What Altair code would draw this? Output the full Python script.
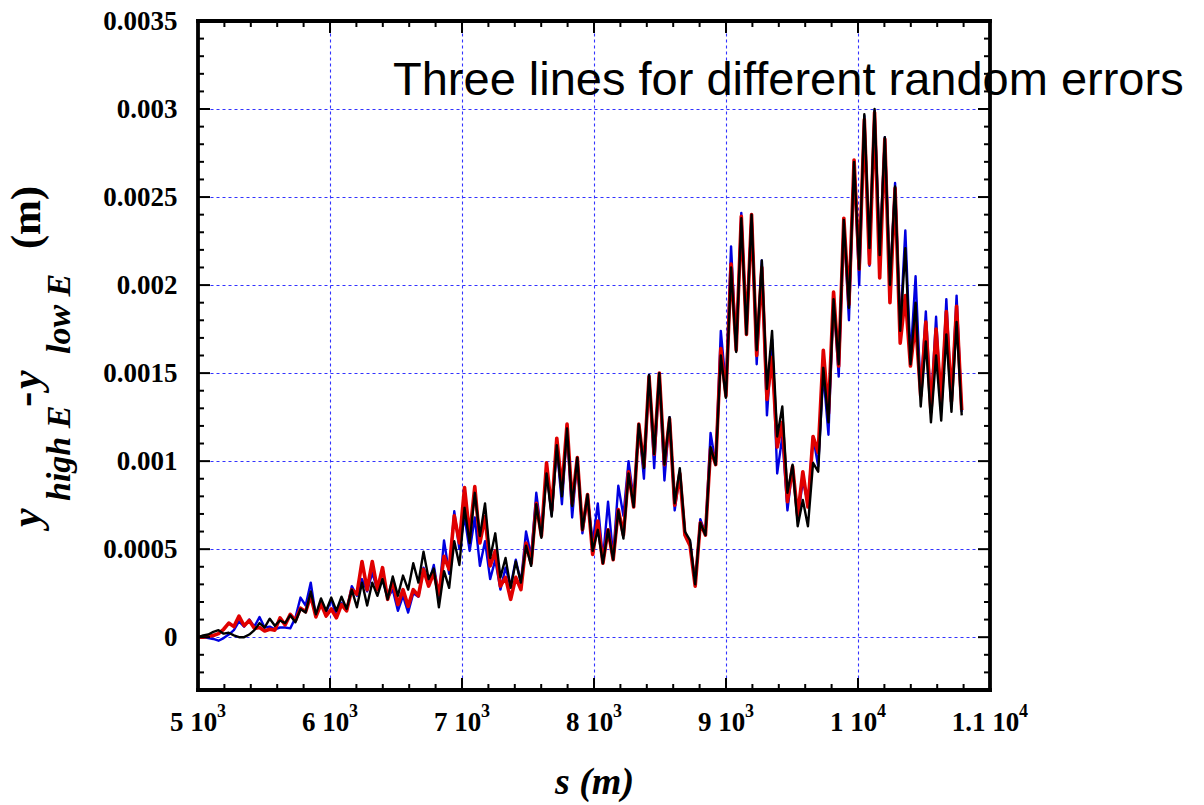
import altair as alt
import pandas as pd

# ---------------- data (values in units of 1e-4 m) ----------------
S_START = 5000.0          # first sample position (m)
S_STEP = 38.83            # sample spacing (m)

BLACK = [
    0.0, 0.1, 0.15, 0.3, 0.4, 0.2, 0.25, 0.1, 0.0, 0.0,
    0.15, 0.4, 0.8, 0.55, 1.05, 0.65, 0.95, 0.8, 1.25, 0.85,
    1.6, 1.4, 2.6, 1.3, 2.2,
    1.5, 2.25, 1.5, 2.3, 1.6,
    2.7, 1.7, 3.1, 1.8, 3.1, 2.35, 3.3, 2.15, 3.45, 2.35,
    3.5, 2.7, 4.2, 3.1, 4.85, 3.3, 3.9, 1.7, 3.75, 2.8,
    5.45, 4.1,
    7.35, 5.35, 8.2, 5.75, 7.6, 4.5, 5.9, 3.4,
    4.5, 2.8, 4.3, 3.1, 5.2, 4.05, 7.55, 5.65, 9.3, 6.85,
    10.9, 8.0, 11.85, 7.45, 10.2, 6.1, 8.1, 4.9,
    6.1, 4.2, 6.1, 4.4, 7.2, 5.6, 9.3, 7.4, 12.1, 9.6, 14.9, 10.4,
    15.0, 9.8, 12.5, 7.6, 9.6, 6.0, 5.5, 3.0, 6.5, 5.8, 10.8, 9.8, 16.0, 13.6,
    21.0, 16.2, 23.8, 17.2, 24.0, 16.3, 21.4, 14.1, 17.4, 11.4, 13.1, 8.2, 9.8,
    6.3, 7.8, 6.3, 9.9, 9.4, 15.3, 12.2, 19.2, 15.5, 23.7, 18.7, 27.0, 20.9,
    29.7, 22.1, 30.0, 21.7, 28.4, 20.0, 25.6, 17.4, 22.1, 15.5,
    19.0, 13.1, 16.8, 12.2, 16.0, 12.3, 17.2, 12.8, 17.9, 12.6,
]

RED = [
    0.0, 0.0, 0.05, 0.1, 0.2, 0.45, 0.8, 0.6, 1.2, 0.65,
    0.95, 0.5, 0.55, 0.35, 0.45, 0.4, 1.1, 0.7, 1.3, 0.95,
    1.65, 1.45, 2.35, 1.15, 1.9,
    1.2, 1.6, 1.1, 1.85, 1.5,
    2.7, 2.45, 4.3, 2.7, 4.3, 2.7, 3.95, 2.15, 3.2, 1.85,
    2.7, 1.75, 2.7, 2.35, 3.85, 2.9, 3.65, 2.4, 4.6, 3.85,
    6.9, 5.35,
    8.5, 5.75, 8.55, 5.35, 6.85, 4.05, 4.9, 2.9,
    3.4, 2.15, 3.4, 2.7, 5.35, 4.2, 7.6, 5.75, 9.9, 7.2,
    11.3, 8.4, 12.1, 7.6, 10.2, 6.1, 8.1, 4.7,
    6.6, 4.2, 6.1, 4.4, 7.25, 5.8, 9.4, 7.4, 12.1, 9.7, 14.8, 10.4,
    15.0, 9.8, 12.4, 7.5, 9.3, 5.8, 5.2, 2.9, 6.5, 5.8, 10.7, 9.8, 16.4, 13.7,
    21.2, 16.3, 23.9, 17.2, 24.0, 16.0, 21.0, 13.5, 15.9, 10.8, 12.2, 7.7, 9.7,
    6.9, 9.4, 7.4, 11.4, 10.5, 16.3, 12.7, 19.6, 15.4, 23.8, 18.9, 27.1, 20.9,
    29.4, 21.2, 29.8, 20.4, 28.3, 19.0, 25.5, 16.7, 19.4, 15.4,
    17.9, 13.7, 17.9, 12.8, 17.5, 13.4, 18.5, 13.4, 18.8, 12.9,
]

BLUE = [
    0.0, 0.0, -0.05, -0.1, -0.2, -0.05, 0.15, 0.4, 0.9, 0.6,
    1.0, 0.6, 1.15, 0.55, 0.6, 0.45, 0.55, 0.55, 0.5, 1.1,
    2.25, 1.8, 3.1, 1.2, 2.0,
    1.4, 2.15, 1.2, 1.95, 1.5,
    2.9, 2.35, 3.3, 2.6, 3.65, 2.7, 3.3, 2.25, 2.7, 1.5,
    2.35, 1.4, 2.5, 2.3, 3.95, 3.0, 4.1, 2.3, 5.5, 3.6,
    7.15, 5.0,
    6.85, 4.9, 6.8, 4.05, 5.45, 3.3, 4.4, 2.7,
    3.95, 2.9, 4.4, 3.1, 6.0, 4.6, 8.2, 5.9, 9.5, 6.95,
    10.8, 7.55, 11.8, 6.8, 10.1, 5.9, 8.0, 5.35,
    7.6, 4.4, 7.7, 4.6, 8.6, 6.9, 10.0, 7.8, 12.1, 9.0, 14.9, 9.6,
    15.0, 8.9, 12.5, 7.2, 9.3, 5.9, 5.4, 3.0, 6.7, 5.9, 11.6, 9.8, 17.4, 14.2,
    22.2, 16.3, 24.1, 17.4, 24.0, 15.5, 21.4, 12.6, 16.9, 9.3, 11.4, 7.2, 9.7,
    6.7, 8.9, 7.6, 11.4, 9.7, 15.0, 11.5, 19.3, 14.8, 23.5, 18.0, 27.0, 20.0,
    29.6, 21.1, 29.9, 21.7, 28.4, 20.0, 25.8, 17.5, 23.1, 15.8,
    20.5, 13.8, 18.5, 13.0, 18.2, 12.8, 19.2, 13.2, 19.4, 12.8,
]

S = [round(S_START + i * S_STEP, 2) for i in range(len(BLACK))]

X_LABEL_VALUES = [5000, 6000, 7000, 8000, 9000, 10000, 11000]
X_LABEL_TEXT = ["5 10", "6 10", "7 10", "8 10", "9 10", "1 10", "1.1 10"]
X_LABEL_EXP = ["3", "3", "3", "3", "3", "4", "4"]
Y_LABEL_VALUES = [0, 0.0005, 0.001, 0.0015, 0.002, 0.0025, 0.003, 0.0035]

X_MAJOR = [6000, 7000, 8000, 9000, 10000]
X_MINOR = [v for v in range(5200, 11000, 200) if v % 1000 != 0]
Y_MAJOR = [0, 0.0005, 0.001, 0.0015, 0.002, 0.0025, 0.003]
Y_MINOR = [round(v * 1e-4, 4) for v in range(-2, 35) if v % 5 != 0]

TITLE = "Three lines for different random errors"

# ---------------- layout ----------------
W, H = 792, 669
MAJ, MIN = 12, 6

x_scale = alt.Scale(domain=[5000, 11000], nice=False, zero=False)
y_scale = alt.Scale(domain=[-0.0003, 0.0035], nice=False, zero=False)

GRID = dict(grid=True, gridColor="#3333ff", gridDash=[3, 3], gridWidth=1.1, gridOpacity=1)
SERIF = "Liberation Serif"

label_expr = "[" + ",".join("'" + t + "'" for t in X_LABEL_TEXT) + "][round((datum.value-5000)/1000)]"

x_axis = alt.Axis(values=X_LABEL_VALUES, labelExpr=label_expr, ticks=False, tickSize=0,
                  domain=False, labelFont=SERIF, labelFontSize=27, labelFontWeight="bold",
                  labelColor="black", labelPadding=19, labelOffset=-5, labelFlush=False,
                  labelOverlap=False,
                  title="s (m)", titleFont=SERIF, titleFontSize=38, titleFontStyle="italic",
                  titleFontWeight="bold", titleColor="black", titleY=103,
                  titleBaseline="alphabetic", **GRID)
y_axis = alt.Axis(values=Y_LABEL_VALUES, format=".4~f", ticks=False, tickSize=0,
                  domain=False, labelFont=SERIF, labelFontSize=27, labelFontWeight="bold",
                  labelColor="black", labelPadding=21, labelOverlap=False, title=None, **GRID)

rows = []
for name, vals in (("blue", BLUE), ("red", RED), ("black", BLACK)):
    for s, v in zip(S, vals):
        rows.append({"s": s, "v": v * 1e-4, "series": name})
df = pd.DataFrame(rows)

X_ENC = dict(scale=x_scale, axis=x_axis)
Y_ENC = dict(scale=y_scale, axis=y_axis)


def line(name, color, width):
    return alt.Chart(df[df.series == name]).mark_line(
        color=color, strokeWidth=width, strokeJoin="round", clip=True
    ).encode(
        x=alt.X("s:Q", **X_ENC),
        y=alt.Y("v:Q", **Y_ENC),
        order="s:Q",
    )


blue_l = line("blue", "#0000e0", 2.4)
red_l = line("red", "#e00000", 3.6)
black_l = line("black", "#000000", 2.4)


def xticks(vals, length):
    d = pd.DataFrame({"s": vals})
    base = alt.Chart(d).mark_rule(color="black", strokeWidth=2)
    bottom = base.encode(x=alt.X("s:Q", **X_ENC),
                         y=alt.value(H), y2=alt.value(H - length))
    top = base.encode(x=alt.X("s:Q", **X_ENC),
                      y=alt.value(0), y2=alt.value(length))
    return [bottom, top]


def yticks(vals, length):
    d = pd.DataFrame({"v": vals})
    base = alt.Chart(d).mark_rule(color="black", strokeWidth=2)
    left = base.encode(y=alt.Y("v:Q", **Y_ENC),
                       x=alt.value(0), x2=alt.value(length))
    right = base.encode(y=alt.Y("v:Q", **Y_ENC),
                        x=alt.value(W), x2=alt.value(W - length))
    return [left, right]


dummy = pd.DataFrame({"a": [0]})
frame_base = alt.Chart(dummy).mark_rule(color="black", strokeWidth=3.8, strokeCap="square")
frame = [
    frame_base.encode(x=alt.value(0), x2=alt.value(W), y=alt.value(0)),
    frame_base.encode(x=alt.value(0), x2=alt.value(W), y=alt.value(H)),
    frame_base.encode(x=alt.value(0), y=alt.value(0), y2=alt.value(H)),
    frame_base.encode(x=alt.value(W), y=alt.value(0), y2=alt.value(H)),
]

# superscript exponents of the x tick labels
sup_df = pd.DataFrame({"s": X_LABEL_VALUES, "e": X_LABEL_EXP, "t": X_LABEL_TEXT})
sup_short = alt.Chart(sup_df[sup_df.t.str.len() <= 4]).mark_text(
    font=SERIF, fontSize=18, fontWeight="bold", align="left", baseline="alphabetic",
    color="black", dx=19
).encode(x=alt.X("s:Q", **X_ENC), y=alt.value(H + 27), text="e:N")
sup_long = alt.Chart(sup_df[sup_df.t.str.len() > 4]).mark_text(
    font=SERIF, fontSize=18, fontWeight="bold", align="left", baseline="alphabetic",
    color="black", dx=29
).encode(x=alt.X("s:Q", **X_ENC), y=alt.value(H + 27), text="e:N")

title = alt.Chart(pd.DataFrame({"t": [TITLE]})).mark_text(
    font="Liberation Sans", fontSize=47, align="left", baseline="alphabetic", color="black"
).encode(text="t:N", x=alt.value(195), y=alt.value(74))

# y-axis title pieces: y_{high E} - y_{low E} (m), rotated
MAIN_X, SUB_X = -158, -128
YT_TEXT = ["y", "high E", "-", "y", "low E", "(m)"]
YT_POS = [506, 480, 386, 368, 333, 228]
YT_SIZE = [42, 34, 46, 42, 34, 42]
YT_STYLE = ["italic", "italic", "normal", "italic", "italic", "normal"]
YT_SUB = [False, True, False, False, True, False]

ytitle = []
for t, p, fs, st, sub in zip(YT_TEXT, YT_POS, YT_SIZE, YT_STYLE, YT_SUB):
    ytitle.append(
        alt.Chart(pd.DataFrame({"t": [t]})).mark_text(
            font=SERIF, fontSize=fs, fontWeight="bold", fontStyle=st, angle=270,
            align="left", baseline="alphabetic", color="black"
        ).encode(text="t:N", x=alt.value(SUB_X if sub else MAIN_X), y=alt.value(p))
    )

layers = ([blue_l, red_l, black_l]
          + xticks(X_MAJOR, MAJ) + xticks(X_MINOR, MIN)
          + yticks(Y_MAJOR, MAJ) + yticks(Y_MINOR, MIN)
          + frame + [sup_short, sup_long, title] + ytitle)

chart = alt.layer(*layers).properties(
    width=W, height=H,
    autosize=alt.AutoSizeParams(type="none"),
    padding={"left": 190, "top": 13, "right": 206, "bottom": 116},
    background="white",
).configure_view(stroke=None)

chart.save("out.html", embed_options={"renderer": "svg", "actions": False})
